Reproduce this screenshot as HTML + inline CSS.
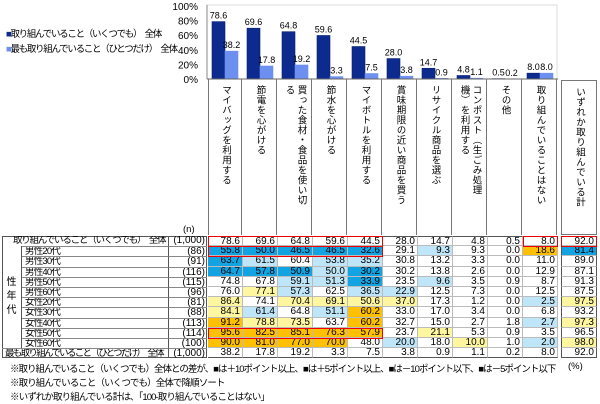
<!DOCTYPE html>
<html><head><meta charset="utf-8"><style>
body{margin:0;background:#fff}
#root{position:relative;width:600px;height:404px;overflow:hidden;font-family:"Liberation Sans","Noto Sans CJK JP",sans-serif;color:#000}
.a{position:absolute;white-space:nowrap}
.j{letter-spacing:-1.3px}
.vt{position:absolute;writing-mode:vertical-rl;font-size:9.5px;line-height:12px;letter-spacing:0.5px;white-space:pre}
.cell{position:absolute;font-size:10px;text-align:right;box-sizing:border-box;padding-right:2px;line-height:10px;border-right:1px solid #bbb;border-bottom:1px solid #bbb}
.lab{position:absolute;font-size:9.5px;line-height:10px;white-space:nowrap;overflow:hidden}
</style></head><body>
<div id="root">
<svg id="svg" width="600" height="404" style="position:absolute;left:0;top:0"></svg>
<div class="a j" style="left:6px;top:26px;font-size:9.5px"><span style="color:#0d2a8f">■</span>取り組んでいること（いくつでも）　全体</div>
<div class="a j" style="left:6px;top:41px;font-size:9.5px"><span style="color:#6d8ff0">■</span>最も取り組んでいること（ひとつだけ）　全体</div>
<div id="tbl"></div>
<div class="a" style="left:10px;top:361px;font-size:9.5px;letter-spacing:-1px">※取り組んでいること（いくつでも）全体との差が、■は＋10ポイント以上、■は＋5ポイント以上、■は－10ポイント以下、■は－5ポイント以下</div>
<div class="a" style="left:10px;top:375px;font-size:9.5px;letter-spacing:-0.9px">※取り組んでいること（いくつでも）全体で降順ソート</div>
<div class="a" style="left:10px;top:389px;font-size:9.5px;letter-spacing:-0.9px">※いずれか取り組んでいる計は、「100-取り組んでいることはない」</div>
<div class="a" style="left:568px;top:361px;font-size:9.5px">(%)</div>
</div>
<script>
const categories=["マイバッグを利用する","節電を心がける","買った食材・食品を使い切る","節水を心がける","マイボトルを利用する","賞味期限の近い商品を買う","リサイクル商品を選ぶ","コンポスト（生ごみ処理機）を利用する","その他","取り組んでいることはない"];
const seriesAny=[78.6,69.6,64.8,59.6,44.5,28.0,14.7,4.8,0.5,8.0];
const seriesMost=[38.2,17.8,19.2,3.3,7.5,3.8,0.9,1.1,0.2,8.0];
const yTicks=[0,20,40,60,80,100];
const rowLabels=["取り組んでいること（いくつでも）　全体","男性20代","男性30代","男性40代","男性50代","男性60代","女性20代","女性30代","女性40代","女性50代","女性60代","最も取り組んでいること（ひとつだけ）　全体"];
const rowN=["(1,000)","(86)","(91)","(116)","(115)","(96)","(81)","(88)","(113)","(114)","(100)","(1,000)"];
const tableValues=[
[78.6,69.6,64.8,59.6,44.5,28.0,14.7,4.8,0.5,8.0,92.0],
[55.8,50.0,46.5,46.5,32.6,29.1,9.3,9.3,0.0,18.6,81.4],
[63.7,61.5,60.4,53.8,35.2,30.8,13.2,3.3,0.0,11.0,89.0],
[64.7,57.8,50.9,50.0,30.2,30.2,13.8,2.6,0.0,12.9,87.1],
[74.8,67.8,59.1,51.3,33.9,23.5,9.6,3.5,0.9,8.7,91.3],
[76.0,77.1,57.3,62.5,36.5,22.9,12.5,7.3,0.0,12.5,87.5],
[86.4,74.1,70.4,69.1,50.6,37.0,17.3,1.2,0.0,2.5,97.5],
[84.1,61.4,64.8,51.1,60.2,33.0,17.0,3.4,0.0,6.8,93.2],
[91.2,78.8,73.5,63.7,60.2,32.7,15.0,2.7,1.8,2.7,97.3],
[95.6,82.5,85.1,76.3,57.9,23.7,21.1,5.3,0.9,3.5,96.5],
[90.0,81.0,77.0,70.0,48.0,20.0,18.0,10.0,1.0,2.0,98.0],
[38.2,17.8,19.2,3.3,7.5,3.8,0.9,1.1,0.2,8.0,92.0]];
const cellColors=[
"-----------","BBBBB-L--OB","BL-LL------","BBBLB------","--LLB-L----","-YL-LL-----",
"Y-YYYY---LY","YL-LO------","OYY-O----LY","OOOOO-Y----","OOOO-L-Y-LY","-----------"];
const colMap={B:"#12a3e3",L:"#bfe5f8",Y:"#fff7a0",O:"#ffc000"};
const NS="http://www.w3.org/2000/svg";
const svg=document.getElementById('svg');
const X0=208,CW=35,Y0=79,YS=0.73;
function xCol(i){return X0+i*CW}
function yVal(v){return Y0-v*YS}
function mk(t,a){const e=document.createElementNS(NS,t);for(const k in a)e.setAttribute(k,a[k]);svg.appendChild(e);return e}
let fr=mk('rect',{x:207,y:5,width:350,height:74,fill:'none',stroke:'#ddd'});


yTicks.forEach(t=>{const e=mk('text',{x:198,y:yVal(t)+4,'text-anchor':'end','font-size':10,'font-family':'Liberation Sans'});e.textContent=t+'%';

});
let ax=mk('line',{x1:207,y1:5,x2:207,y2:Y0,stroke:'#888'});


categories.forEach((c,i)=>{
 const x=xCol(i);
 [[seriesAny[i],4,'#0d2a8f','#0a1e70'],[seriesMost[i],17,'#6d8ff0','#6d8ff0']].forEach((s,k)=>{
  const r=mk('rect',{x:x+s[1],y:yVal(s[0]),width:13,height:s[0]*YS,fill:s[2],stroke:s[3],'stroke-width':0.6});
  
  
  const t=mk('text',{x:x+s[1]+6.5,y:yVal(s[0])-3,'text-anchor':'middle','font-size':9,'font-family':'Liberation Sans'});
  t.textContent=s[0].toFixed(1);
  
  
 });
});
let xa=mk('line',{x1:207,y1:Y0,x2:558,y2:Y0,stroke:'#666'});


const tbl=document.getElementById('tbl');
const RT=236,RH=10.2;
function div(cls,style,txt){const d=document.createElement('div');d.className=cls;d.style.cssText=style;if(txt!==undefined)d.textContent=txt;tbl.appendChild(d);return d}
function wrap(s){const ch=[...s];const n=s.indexOf('（')>=0?11:12;let out=[];for(let k=0;k<ch.length;k+=n)out.push(ch.slice(k,k+n).join(''));return out.join('\n')}
categories.forEach((c,i)=>{
 const d=div('vt',`left:${xCol(i)}px;top:${Y0}px;width:${CW-1}px;height:${RT-Y0-1}px;border-right:1px solid #777;border-left:${i==0?'1px solid #777':'none'};padding-top:6px;box-sizing:border-box;display:flex;align-items:center;justify-content:flex-start`,wrap(c));
 
 
});
let th=div('vt',`left:561px;top:${Y0+1}px;width:36px;height:${RT-Y0-2}px;border:1px solid #777;padding-top:6px;box-sizing:border-box;display:flex;align-items:center`,'いずれか取り組んでいる計');


let nl=div('lab','left:183px;top:225px','(n)');


let lb=div('lab',`left:2px;top:${RT}px;width:205px;height:${RH*12}px;border:1px solid #555;box-sizing:border-box`);


let grp=div('lab',`left:2px;top:${RT+RH}px;width:20px;height:${RH*10}px;border-right:1px solid #555;box-sizing:border-box;display:flex;align-items:center;justify-content:center;text-align:center;line-height:14px;font-size:10px`,'');
grp.innerHTML='性<br>年<br>代';


rowLabels.forEach((r,j)=>{
 const top=RT+j*RH;
 const sub=j>=1&&j<=10;
 const l=div('lab',`left:${sub?22:2}px;top:${top}px;width:${sub?146:166}px;height:${RH}px;box-sizing:border-box;padding-left:${sub?3:(j==0?11:3)}px;border-top:${j?'1px solid #888':'none'}`,r);
 l.style.letterSpacing=sub?'-0.8px':(j==0?'-1.2px':'-1.7px');
 
 
 const n=div('lab',`left:168px;top:${top}px;width:39px;height:${RH}px;text-align:right;box-sizing:border-box;padding-right:2px;border-left:1px solid #555;border-top:${j?'1px solid #888':'none'};font-size:10px`,rowN[j]);
 
 
 tableValues[j].forEach((v,i)=>{
  const tot=i==10;
  const x=tot?561:xCol(i);
  const bg=colMap[cellColors[j][i]]||'#fff';
  const c=div('cell',`left:${x}px;top:${top}px;width:${tot?36:CW}px;height:${RH}px;background:${bg};border-top:${j==0?'1px solid #555':'none'};${tot?'border-left:1px solid #555;border-right:1px solid #555;':''}${j==11?'border-bottom:1px solid #555;':''}`,v.toFixed(1));
  
  
 });
});
[[0,0,5],[0,9,1],[1,0,5],[9,0,5]].forEach(b=>{
 const r=div('lab',`left:${xCol(b[1])}px;top:${RT+b[0]*RH}px;width:${b[2]*CW}px;height:${RH+1}px;border:1.5px solid #e00;box-sizing:border-box`);
 
 
});
let rt=div('lab',`left:561px;top:${RT}px;width:36px;height:${RH+1}px;border:1.5px solid #e00;box-sizing:border-box`);


</script>
</body></html>
